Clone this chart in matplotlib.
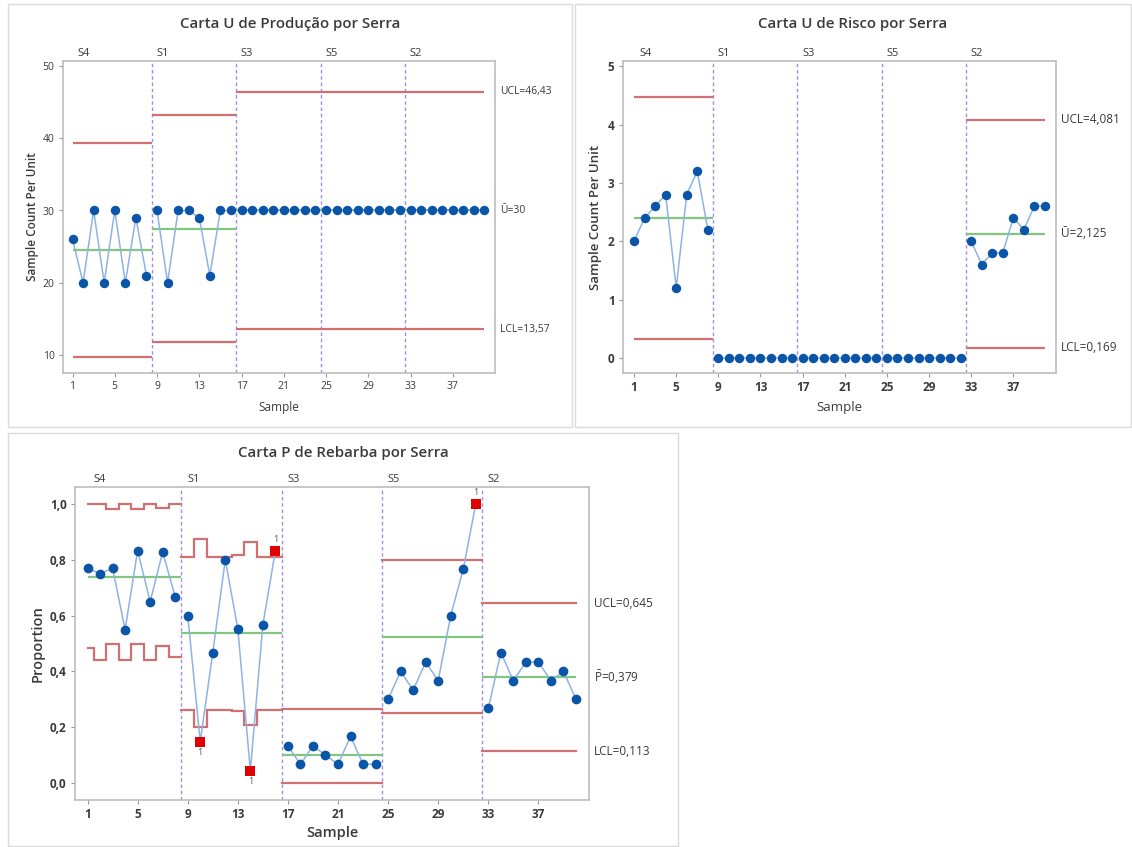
import matplotlib
matplotlib.use("Agg")
import matplotlib.pyplot as plt
from matplotlib.patches import Rectangle
import matplotlib.transforms as mtransforms

plt.rcParams['font.family'] = ['Open Sans', 'DejaVu Sans']
plt.rcParams['mathtext.fontset'] = 'custom'
plt.rcParams['mathtext.rm'] = 'Open Sans'

# ---------------- data ----------------
samples = list(range(1, 41))
stages = ["S4", "S1", "S3", "S5", "S2"]
stage_size = [8, 8, 8, 8, 8]
xticks = [1, 5, 9, 13, 17, 21, 25, 29, 33, 37]

# Carta U de Produção
prod_u = [26, 20, 30, 20, 30, 20, 29, 21,
          30, 20, 30, 30, 29, 21, 30, 30,
          30, 30, 30, 30, 30, 30, 30, 30,
          30, 30, 30, 30, 30, 30, 30, 30,
          30, 30, 30, 30, 30, 30, 30, 30]
prod_center = [24.5, 27.5, 30, 30, 30]
prod_ucl = [39.35, 43.23, 46.43, 46.43, 46.43]
prod_lcl = [9.65, 11.77, 13.57, 13.57, 13.57]
prod_labels = ["UCL=46,43", "Ū=30", "LCL=13,57"]
prod_yticks = [10, 20, 30, 40, 50]

# Carta U de Risco
risk_u = [2.0, 2.4, 2.6, 2.8, 1.2, 2.8, 3.2, 2.2,
          0, 0, 0, 0, 0, 0, 0, 0,
          0, 0, 0, 0, 0, 0, 0, 0,
          0, 0, 0, 0, 0, 0, 0, 0,
          2.0, 1.6, 1.8, 1.8, 2.4, 2.2, 2.6, 2.6]
risk_center = [2.4, None, None, None, 2.125]
risk_ucl = [4.478, None, None, None, 4.081]
risk_lcl = [0.322, None, None, None, 0.169]
risk_labels = ["UCL=4,081", "Ū=2,125", "LCL=0,169"]
risk_yticks = [0, 1, 2, 3, 4, 5]

# Carta P de Rebarba
reb_p = [0.77, 0.75, 0.77, 0.55, 0.833, 0.65, 0.828, 0.667,
         0.60, 0.148, 0.467, 0.80, 0.553, 0.044, 0.567, 0.833,
         0.133, 0.067, 0.133, 0.10, 0.067, 0.167, 0.067, 0.067,
         0.30, 0.40, 0.333, 0.433, 0.367, 0.60, 0.767, 1.0,
         0.267, 0.467, 0.367, 0.433, 0.433, 0.367, 0.40, 0.30]
reb_ucl = [1.0, 1.0, 0.981, 1.0, 0.981, 1.0, 0.987, 1.0,
           0.811, 0.873, 0.811, 0.811, 0.816, 0.864, 0.809, 0.809,
           0.264, 0.264, 0.264, 0.264, 0.264, 0.264, 0.264, 0.264,
           0.799, 0.799, 0.799, 0.799, 0.799, 0.799, 0.799, 0.799,
           0.645, 0.645, 0.645, 0.645, 0.645, 0.645, 0.645, 0.645]
reb_lcl = [0.483, 0.441, 0.498, 0.441, 0.498, 0.441, 0.492, 0.453,
           0.262, 0.200, 0.262, 0.262, 0.258, 0.208, 0.262, 0.262,
           0.0, 0.0, 0.0, 0.0, 0.0, 0.0, 0.0, 0.0,
           0.251, 0.251, 0.251, 0.251, 0.251, 0.251, 0.251, 0.251,
           0.113, 0.113, 0.113, 0.113, 0.113, 0.113, 0.113, 0.113]
reb_center = [0.74, 0.539, 0.10, 0.525, 0.379]
reb_labels = ["UCL=0,645", r"$\bar{\mathrm{P}}$=0,379", "LCL=0,113"]
reb_yticks = [0.0, 0.2, 0.4, 0.6, 0.8, 1.0]

# ---------------- style ----------------
C_LIM = '#D07070'
C_CEN = '#80C680'
C_LINE = '#8DB3E2'
C_PT = '#0A55A8'
C_VL = '#9C8FE8'
C_FR = '#BDBDBD'
C_TXT = '#3A3A3A'

W, H = 1132, 847
fig = plt.figure(figsize=(W / 100, H / 100), dpi=100)


def fb(x0, y0, x1, y1):
    return [x0 / W, 1 - y1 / H, (x1 - x0) / W, (y1 - y0) / H]


# panel boxes
for (x0, y0, x1, y1) in [(8, 4, 572, 427), (575, 4, 1131, 427), (8, 433, 678, 846)]:
    fig.patches.append(Rectangle((x0 / W, 1 - y1 / H), (x1 - x0) / W, (y1 - y0) / H,
                                 transform=fig.transFigure, fill=False,
                                 edgecolor='#DADADA', lw=1.0))


def stage_ranges():
    out = []
    start = 1
    for n in stage_size:
        out.append((start, start + n - 1))
        start += n
    return out


def hseg(ax, i, val, color, lw=1.6):
    a, b = stage_ranges()[i]
    lo = max(a - 0.5, samples[0])
    hi = min(b + 0.5, samples[-1])
    ax.plot([lo, hi], [val, val], color=color, lw=lw, zorder=2, solid_capstyle='butt')


def step_seg(ax, i, vals, color, lw=1.6):
    a, b = stage_ranges()[i]
    lo = max(a - 0.5, samples[0])
    hi = min(b + 0.5, samples[-1])
    xs, ys = [], []
    for s in range(a, b + 1):
        x0 = max(s - 0.5, lo)
        x1 = min(s + 0.5, hi)
        xs += [x0, x1]
        ys += [vals[s - 1], vals[s - 1]]
    ax.plot(xs, ys, color=color, lw=lw, zorder=2, solid_joinstyle='miter')


def base_axes(rect, xlim, ylim, yticks, yfmt, tick_fs, tick_bold):
    ax = fig.add_axes(rect)
    ax.set_xlim(*xlim)
    ax.set_ylim(*ylim)
    for sp in ax.spines.values():
        sp.set_color(C_FR)
        sp.set_linewidth(1.2)
    ax.set_xticks(xticks)
    ax.set_yticks(yticks)
    ax.set_yticklabels([yfmt(v) for v in yticks])
    ax.tick_params(length=3, width=0.8, color='#999999', labelsize=tick_fs,
                   labelcolor=C_TXT, pad=3)
    if tick_bold:
        for t in ax.get_xticklabels() + ax.get_yticklabels():
            t.set_fontweight('bold')
    for (a, b) in stage_ranges()[:-1]:
        ax.axvline(b + 0.5, color=C_VL, lw=1.0, ls=(0, (2.5, 2)), zorder=1)
    trans = mtransforms.blended_transform_factory(ax.transData, ax.transAxes)
    for i, (a, b) in enumerate(stage_ranges()):
        x = a + 0.5 if i == 0 else a - 0.5 + 0.45
        ax.text(x, 1.005, stages[i], transform=trans, ha='left', va='bottom',
                fontsize=8, color=C_TXT)
    return ax


def right_labels(ax, vals, labels, fs, xpos):
    trans = mtransforms.blended_transform_factory(ax.transAxes, ax.transData)
    for v, t in zip(vals, labels):
        ax.text(xpos, v, t, transform=trans, ha='left', va='center',
                fontsize=fs, color=C_TXT, clip_on=False)


def stage_lines(ax, vals):
    # points are connected only within each stage
    for (a, b) in stage_ranges():
        xs = samples[a - 1:b]
        ax.plot(xs, vals[a - 1:b], color=C_LINE, lw=1.1, zorder=3)


def data_line(ax, vals, ms):
    stage_lines(ax, vals)
    ax.plot(samples, vals, ls='none', marker='o', ms=ms, color=C_PT,
            markeredgewidth=0, zorder=4)


# ---------- Top-left: Produção ----------
ax1 = base_axes(fb(63, 61, 495, 373), (0.1, 41.0), (7.5, 50.7), prod_yticks,
                lambda v: f"{v:d}", 7.5, False)
for i in range(len(stages)):
    hseg(ax1, i, prod_ucl[i], C_LIM)
    hseg(ax1, i, prod_lcl[i], C_LIM)
    hseg(ax1, i, prod_center[i], C_CEN)
data_line(ax1, prod_u, 6.8)
right_labels(ax1, [prod_ucl[-1], prod_center[-1], prod_lcl[-1]], prod_labels, 7.5, 1.012)
ax1.set_xlabel("Sample", fontsize=8.5, color=C_TXT, labelpad=6)
ax1.set_ylabel("Sample Count Per Unit", fontsize=8.5, color=C_TXT, labelpad=3,
               fontweight='semibold')
fig.text(290 / W, 1 - 24 / H, "Carta U de Produção por Serra", ha='center', va='center',
         fontsize=10.8, color=C_TXT, fontweight='semibold')

# ---------- Top-right: Risco ----------
ax2 = base_axes(fb(623, 61, 1056, 373), (-0.05, 41.05), (-0.26, 5.09), risk_yticks,
                lambda v: f"{v:d}", 8.5, True)
for i in range(len(stages)):
    if risk_ucl[i] is not None:
        hseg(ax2, i, risk_ucl[i], C_LIM)
        hseg(ax2, i, risk_lcl[i], C_LIM)
        hseg(ax2, i, risk_center[i], C_CEN)
data_line(ax2, risk_u, 6.8)
right_labels(ax2, [risk_ucl[-1], risk_center[-1], risk_lcl[-1]], risk_labels, 8.5, 1.012)
ax2.set_xlabel("Sample", fontsize=9.5, color=C_TXT, labelpad=5)
ax2.set_ylabel("Sample Count Per Unit", fontsize=9.5, color=C_TXT, labelpad=4,
               fontweight='semibold')
fig.text(853 / W, 1 - 24 / H, "Carta U de Risco por Serra", ha='center', va='center',
         fontsize=10.8, color=C_TXT, fontweight='semibold')

# ---------- Bottom: Rebarba ----------
ax3 = base_axes(fb(75, 487, 589, 800), (0.0, 41.04), (-0.061, 1.061), reb_yticks,
                lambda v: f"{v:.1f}".replace('.', ','), 8.5, True)
for i in range(len(stages)):
    step_seg(ax3, i, reb_ucl, C_LIM)
    step_seg(ax3, i, reb_lcl, C_LIM)
    hseg(ax3, i, reb_center[i], C_CEN)
stage_lines(ax3, reb_p)
flag_x = [s for s, p, u, l in zip(samples, reb_p, reb_ucl, reb_lcl) if p > u or p < l]
ok_x = [s for s in samples if s not in flag_x]
ax3.plot(ok_x, [reb_p[s - 1] for s in ok_x], ls='none', marker='o', ms=7, color=C_PT,
         markeredgewidth=0, zorder=4)
ax3.plot(flag_x, [reb_p[s - 1] for s in flag_x], ls='none', marker='s', ms=6.5,
         color='#E00000', markeredgewidth=0, zorder=5)
for s in flag_x:
    p = reb_p[s - 1]
    above = p > reb_ucl[s - 1]
    ax3.annotate("1", (s, p), xytext=(0, 8 if above else -8), textcoords='offset points',
                 ha='center', va='center', fontsize=6.5, color='#555555')
right_labels(ax3, [reb_ucl[-1], reb_center[-1], reb_lcl[-1]], reb_labels, 8.5, 1.01)
ax3.set_xlabel("Sample", fontsize=10.5, color=C_TXT, labelpad=3, fontweight='semibold')
ax3.set_ylabel("Proportion", fontsize=10.5, color=C_TXT, labelpad=4, fontweight='semibold')
fig.text(343 / W, 1 - 453 / H, "Carta P de Rebarba por Serra", ha='center', va='center',
         fontsize=10.8, color=C_TXT, fontweight='semibold')

fig.savefig("out.png", dpi=100)
